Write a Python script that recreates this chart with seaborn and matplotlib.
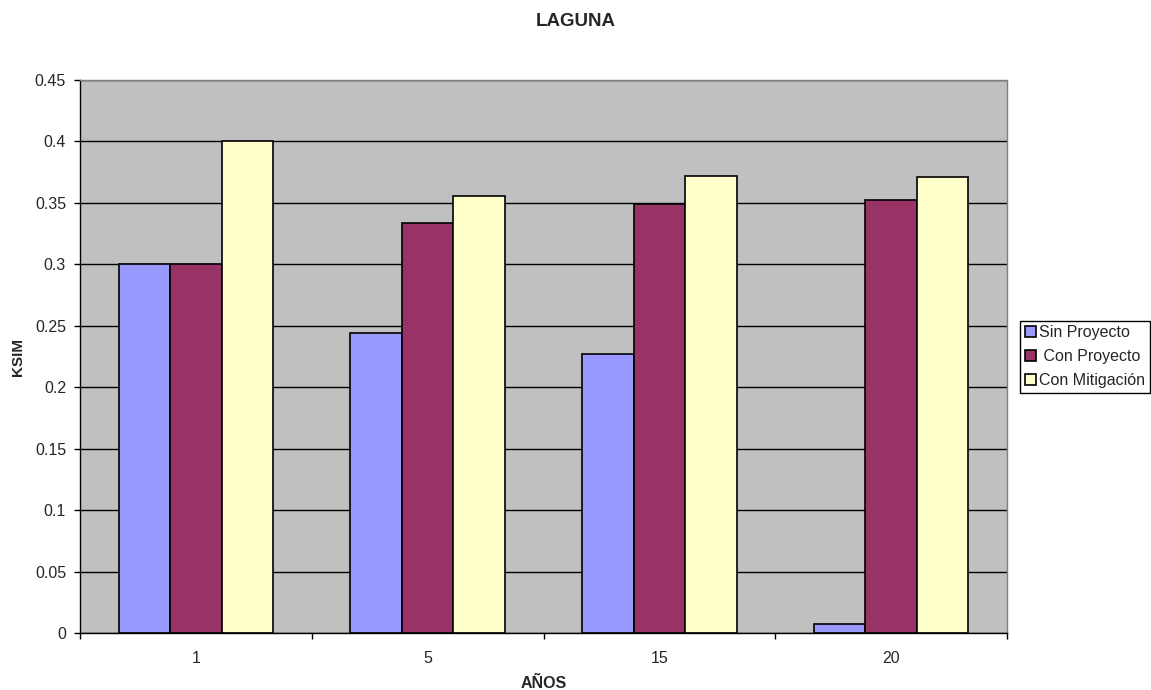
#!/usr/bin/env python3
"""
plot.py - KSIM por año para la laguna (sin proyecto, con proyecto,
con mitigación).
"""
import matplotlib.pyplot as plt
import matplotlib.ticker as mticker
import pandas as pd
import seaborn as sns

# -- Data -- #

YEARS = ['1', '5', '15', '20']
SIN_PROYECTO = [0.300, 0.244, 0.227, 0.0075]
CON_PROYECTO = [0.300, 0.334, 0.349, 0.352]
CON_MITIGACION = [0.400, 0.356, 0.372, 0.371]

SERIES = ['Sin Proyecto', ' Con Proyecto', 'Con Mitigación']
COLORS = ['#9999FF', '#993366', '#FFFFCC']


def build_frame():
    rows = []
    for name, values in zip(SERIES, [SIN_PROYECTO, CON_PROYECTO, CON_MITIGACION]):
        for year, v in zip(YEARS, values):
            rows.append({'year': year, 'serie': name, 'ksim': v})
    return pd.DataFrame(rows)


def main():
    sns.set_style('white')
    plt.rcParams['font.family'] = ['Liberation Sans', 'DejaVu Sans']

    df = build_frame()

    fig = plt.figure(figsize=(11.51, 6.90), dpi=100)
    ax = fig.add_axes([0.0695, 0.0826, 0.8054, 0.8014])
    ax.set_facecolor('#C0C0C0')

    sns.barplot(
        data=df, x='year', y='ksim', hue='serie',
        order=YEARS, hue_order=SERIES, palette=COLORS,
        width=0.667, gap=0, edgecolor='black', linewidth=1.2,
        saturation=1, ax=ax, legend=True,
    )

    ax.set_xlim(-0.5, len(YEARS) - 0.5)
    ax.set_ylim(0, 0.45)
    ax.yaxis.set_major_locator(mticker.MultipleLocator(0.05))
    ax.yaxis.set_major_formatter(
        mticker.FuncFormatter(lambda v, _: f'{v:g}' if v else '0'))
    ax.yaxis.grid(True, color='black', linewidth=1)
    ax.set_axisbelow(True)

    # Tick marks between categories, labels centred.
    ax.xaxis.set_minor_locator(mticker.FixedLocator(
        [i - 0.5 for i in range(len(YEARS) + 1)]))
    ax.tick_params(axis='x', which='major', length=0, labelsize=11.5, pad=13)
    ax.tick_params(axis='x', which='minor', length=4, width=1,
                   direction='out', color='black', bottom=True)
    ax.tick_params(axis='y', length=4.5, width=1, direction='out',
                   color='black', left=True, labelsize=11.5, pad=5.5)

    for side in ['left', 'bottom', 'right', 'top']:
        ax.spines[side].set_color('#808080' if side in ('right', 'top') else 'black')
        ax.spines[side].set_linewidth(1)
        ax.spines[side].set_visible(True)

    ax.set_xlabel('AÑOS', fontsize=11.5, fontweight='bold')
    ax.xaxis.set_label_coords(0.5, -0.0915)
    ax.xaxis.label.set_va('center')
    ax.set_ylabel('KSIM', fontsize=11, fontweight='bold')
    ax.yaxis.set_label_coords(-0.0674, 0.5)
    ax.yaxis.label.set(va='center', ha='center', rotation_mode='anchor')
    fig.text(0.5, 1 - 22 / 690, 'LAGUNA', ha='center', va='center',
             fontsize=13.5, fontweight='bold')

    handles, labels = ax.get_legend_handles_labels()
    ax.legend(
        handles, labels, loc='upper left',
        bbox_to_anchor=(1020 / 1151, 1 - 320.5 / 690),
        bbox_transform=fig.transFigure,
        frameon=True, fancybox=False, edgecolor='black', framealpha=1,
        fontsize=11.5, handlelength=0.7, handleheight=0.7,
        handletextpad=0.2, borderpad=0.3, labelspacing=0.55,
        borderaxespad=0,
    )

    fig.savefig('out.png', dpi=100)


if __name__ == '__main__':
    main()
